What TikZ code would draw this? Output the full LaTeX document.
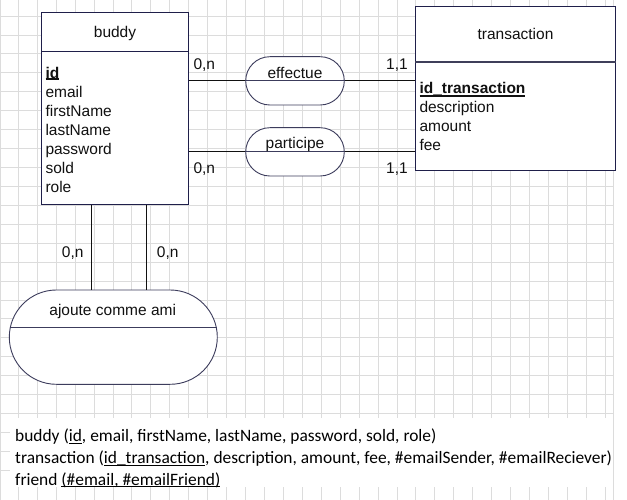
\documentclass[tikz,border=0pt]{standalone}
\usepackage{fontspec}
\setmainfont{Liberation Sans}
\newfontfamily\calibfont{Carlito}
\usetikzlibrary{calc}
\definecolor{boxline}{HTML}{1F1F4A}
\definecolor{relline}{HTML}{3C3C5C}
\definecolor{sepline}{HTML}{3F3F5A}
\definecolor{txt}{HTML}{111111}
\definecolor{gridc}{HTML}{DCDCDC}
\newcommand\myul[3]{\setbox0=\hbox{#3}\rlap{\rule[#1]{\wd0}{#2}}\box0}
\tikzset{
  ent/.style={draw=boxline, line width=1pt, fill=white, inner sep=0pt},
  rel/.style={draw=relline, line width=0.9pt, fill=white, inner sep=0pt},
  sep/.style={draw=boxline, line width=1pt},
  dtext/.style={inner sep=0pt, text=txt, font=\fontsize{15.5}{19}\selectfont},
  attr/.style={dtext, anchor=base west},
  ttl/.style={dtext, anchor=base},
  card/.style={dtext, anchor=base west},
  conn/.style={draw=txt, line width=0.9pt},
  gridline/.style={draw=gridc, line width=0.8pt},
  rtext/.style={inner sep=0pt, anchor=base west, text=black, font=\calibfont\fontsize{17.4}{21}\selectfont},
}
\begin{document}
\begin{tikzpicture}[x=1pt, y=-1pt]
\useasboundingbox (0,0) rectangle (627,500);
\fill[white] (0,0) rectangle (627,500);
% grid
\draw[gridline] (0.4,0) -- (0.4,500);
\foreach \i in {0,...,31} \draw[gridline] ({18.3+18.93*\i},0) -- ++(0,500);
\draw[gridline] (613,0) -- (613,500);
\foreach \j in {0,...,24} \draw[gridline] (0,{16+18.93*\j}) -- (613,{16+18.93*\j});
\fill[white] (10,418) rectangle (613,487);

% entities
\node[ent, minimum width=146.6pt, minimum height=192.7pt] (buddy) at (115,108.65) {};
\draw[sep] (buddy.west |- 0,51.7) -- (buddy.east |- 0,51.7);
\node[ttl] (buddyT) at (115,37.5) {buddy};
\node[attr] (b1) at (45.3,78.3) {\myul{-1.6pt}{1.6pt}{\textbf{id}}};
\node[attr] (b2) at (45.3,97.3) {email};
\node[attr] (b3) at (45.3,116.3) {firstName};
\node[attr] (b4) at (45.3,135.3) {lastName};
\node[attr] (b5) at (45.3,154.3) {password};
\node[attr] (b6) at (45.3,173.3) {sold};
\node[attr] (b7) at (45.3,192.3) {role};

\node[ent, minimum width=199.6pt, minimum height=164.3pt] (trans) at (515.5,88.85) {};
\draw[draw=sepline, line width=2pt] (trans.west |- 0,61.7) -- (trans.east |- 0,61.7);
\node[ttl] (transT) at (515.5,39.7) {transaction};
\node[attr] (t1) at (419.3,94) {\myul{-2.7pt}{1.7pt}{\textbf{id\_transaction}}};
\node[attr] (t2) at (419.3,113) {description};
\node[attr] (t3) at (419.3,132) {amount};
\node[attr] (t4) at (419.3,151) {fee};

% relations
\node[rel, rounded corners=24.15pt, minimum width=98.6pt, minimum height=48.3pt] (eff) at (295,80.85) {};
\draw[draw=relline, line width=0.9pt] (eff.west) -- (eff.east);
\node[ttl] (effT) at (295,78.3) {effectue};

\node[rel, rounded corners=24.15pt, minimum width=98.6pt, minimum height=48.3pt] (part) at (295,151.85) {};
\draw[draw=relline, line width=0.9pt] (part.west) -- (part.east);
\node[ttl] (partT) at (295,148.6) {participe};

\node[rel, rounded corners=47.15pt, minimum width=208pt, minimum height=94.3pt] (ajoute) at (113.3,337.15) {};
\draw[draw=relline, line width=0.9pt] ([shift={(1,-9.45)}]ajoute.west) -- ([shift={(-1,-9.45)}]ajoute.east);
\node[ttl] (ajT) at (112.7,315) {ajoute comme ami};

% connectors
\draw[conn] (buddy.east |- eff.west) -- (eff.west);
\draw[conn] (eff.east) -- (trans.west |- eff.east);
\draw[conn] (buddy.east |- part.west) -- (part.west);
\draw[conn] (part.east) -- (trans.west |- part.east);
\draw[conn] ([xshift=50pt]buddy.south west) -- ([xshift=50pt]buddy.south west |- ajoute.north);
\draw[conn] ([xshift=105.6pt]buddy.south west) -- ([xshift=105.6pt]buddy.south west |- ajoute.north);

% cardinalities
\node[card] (c1) at (193.3,70) {0,n};
\node[card] (c2) at (193.3,174) {0,n};
\node[card] (c3) at (386,69.7) {1,1};
\node[card] (c4) at (386,173.3) {1,1};
\node[card] (c5) at (61.7,257.3) {0,n};
\node[card] (c6) at (156.7,257.3) {0,n};

% relational schema
\node[rtext] (r1) at (15,441.5) {buddy (\myul{-2pt}{0.9pt}{id}, email, firstName, lastName, password, sold, role)};
\node[rtext] (r2) at (15,463.5) {transaction (\myul{-2pt}{0.9pt}{id\_transaction}, description, amount, fee, \#emailSender, \#emailReciever)};
\node[rtext] (r3) at (15,485) {friend \myul{-2pt}{0.9pt}{(\#email, \#emailFriend)}};
\end{tikzpicture}
\end{document}
